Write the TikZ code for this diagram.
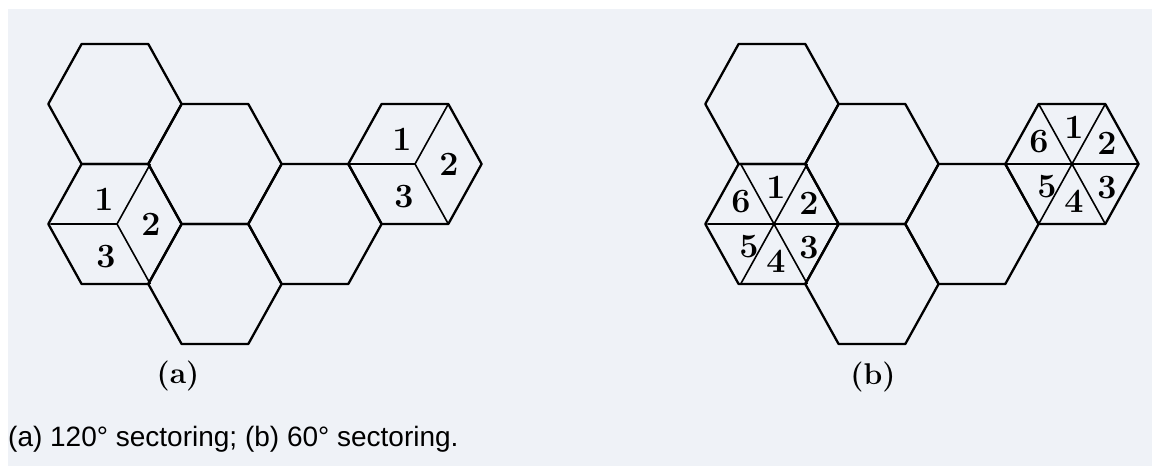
\documentclass[tikz,border=0pt]{standalone}
\usepackage{fontspec}
\newfontfamily\capfont{Liberation Sans}
\usepackage{tikz}
\usetikzlibrary{positioning,calc}
\definecolor{pagecolor}{RGB}{239,242,247}

\begin{document}
\begin{tikzpicture}[x=1pt,y=-1pt,
  cell/.style={line width=2.3pt,line join=round},
  sector/.style={line width=1.6pt},
  num/.style={inner sep=0pt,font=\fontsize{34}{34}\selectfont\bfseries},
  sub/.style={inner sep=0pt,anchor=base,font=\fontsize{30}{30}\selectfont\bfseries}]
\useasboundingbox (0,0) rectangle (1153,466);
\fill[white] (0,0) rectangle (1153,466);
\fill[pagecolor] (8,9) rectangle (1152,466);
% cell layout, drawn once for (a) and shifted for (b)
\foreach \s in {0,657}
  \foreach \cx/\cy in {115/104,215/164,115/224,215/284,315/224,415/164}
    \draw[cell,xshift=\s] (\cx-66.7,\cy) -- ++(33.3,-60) -- ++(66.7,0) -- ++(33.3,60)
      -- ++(-33.3,60) -- ++(-66.7,0) -- cycle;
% (a) 120 degree sectors
\coordinate (aw) at (117,224);
\coordinate (ae) at (415,164);
\foreach \nm in {aw,ae}{
  \draw[sector] (\nm) -- ++(-66.7,0) (\nm) -- ++(33.3,-60) (\nm) -- ++(33.3,60);
  \foreach \k/\dx/\dy in {1/-13/-25,2/34/0,3/-11/33}
    \node[num] (\nm\k) at ([shift={(\dx,\dy)}]\nm) {\k};
}
% (b) 60 degree sectors
\coordinate (bw) at (774,224);
\coordinate (be) at (1072,164);
\foreach \nm in {bw,be}{
  \draw[sector] (\nm) ++(-66.7,0) -- ++(133.4,0) (\nm) ++(-33.3,-60) -- ++(66.6,120)
    (\nm) ++(33.3,-60) -- ++(-66.6,120);
  \foreach \k/\dx/\dy in {1/2/-37,2/35/-21,3/35/24,4/2/37,5/-25/23,6/-33/-22}
    \node[num] (\nm\k) at ([shift={(\dx,\dy)}]\nm) {\k};
}
\node[sub] (suba) at (178,383) {(a)};
\node[sub] (subb) at (873,384) {(b)};
\node[anchor=base west,inner sep=0pt,font=\capfont\fontsize{28}{28}\selectfont] (caption)
  at (8,446) {(a) 120° sectoring; (b) 60° sectoring.};
\end{tikzpicture}
\end{document}
